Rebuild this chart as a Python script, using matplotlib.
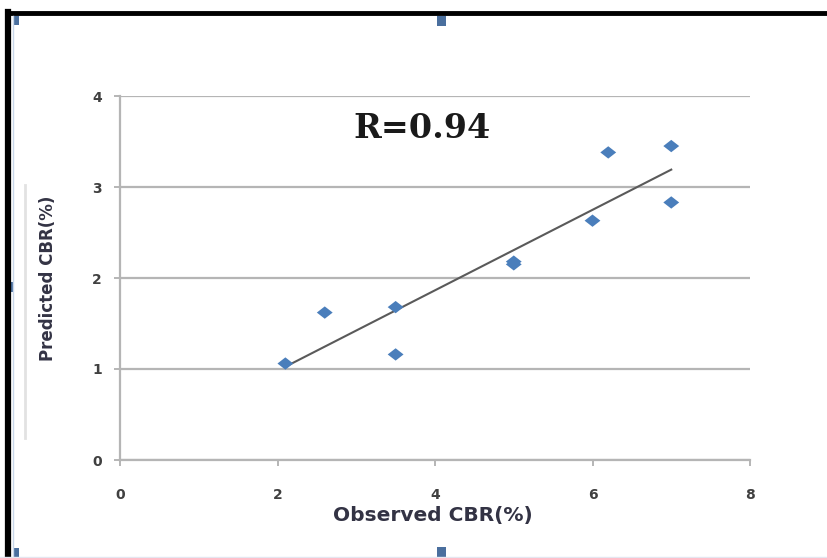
import numpy as np
import matplotlib
matplotlib.use("Agg")
import matplotlib.pyplot as plt
from matplotlib.patches import Rectangle
from matplotlib.lines import Line2D

# observed vs predicted CBR (%)
observed = [2.1, 2.6, 3.5, 3.5, 5.0, 5.0, 6.0, 6.2, 7.0, 7.0]
predicted = [1.06, 1.62, 1.68, 1.16, 2.15, 2.18, 2.63, 3.38, 3.45, 2.83]
x_ticks = [0, 2, 4, 6, 8]
y_ticks = [0, 1, 2, 3, 4]
r_label = "R=0.94"

W, H = 827, 558
fig = plt.figure(figsize=(W / 100, H / 100), dpi=100)
fig.patch.set_facecolor("white")


def px(x, y):
    # pixel (from top-left) -> figure fraction
    return x / W, 1 - y / H


# --- screenshot frame around the chart ---
fig.add_artist(Line2D([8 / W, 1], [1 - 13 / H] * 2, color="black", lw=3.5))
fig.add_artist(Line2D([8 / W] * 2, [0, 1 - 11.5 / H], color="black", lw=4.5))
fig.add_artist(Line2D([13 / W] * 2, [0, 1 - 16 / H], color="#c9d7ea", lw=1))
fig.add_artist(Line2D([0, 1], [1.5 / H] * 2, color="#e4e6f0", lw=1))
fig.add_artist(Line2D([25 / W] * 2, [1 - 438 / H, 1 - 185 / H], color="#e2e2e2", lw=2))
handle = "#4a6f9e"
for (hx, hy, hw, hh) in [(437, 16, 9, 10), (437, 547, 9, 11), (10, 282, 4, 10),
                         (14, 16, 5, 9), (14, 548, 5, 10)]:
    x0, y1 = px(hx, hy + hh)
    fig.add_artist(Rectangle((x0, y1), hw / W, hh / H, color=handle, lw=0))

# --- plot area ---
left, bottom = px(120, 460)
right, top = px(750, 96)
ax = fig.add_axes([left, bottom, right - left, top - bottom])
ax.set_xlim(0, 8)
ax.set_ylim(0, 4)
ax.set_xticks(x_ticks)
ax.set_yticks(y_ticks)

grid_c = "#b5b5b5"
ax.grid(axis="y", color=grid_c, lw=1.6)
ax.set_axisbelow(True)
for s in ["top", "right"]:
    ax.spines[s].set_visible(False)
for s in ["left", "bottom"]:
    ax.spines[s].set_color(grid_c)
    ax.spines[s].set_linewidth(1.6)
ax.tick_params(axis="both", direction="out", length=4, width=1.4, color=grid_c,
               labelsize=10, labelcolor="#404040")
ax.tick_params(axis="x", pad=16)
ax.tick_params(axis="y", pad=9)
for lab in ax.get_xticklabels() + ax.get_yticklabels():
    lab.set_fontweight("bold")

# wide diamond marker like Excel's
diamond = [(-1, 0), (0, 0.78), (1, 0), (0, -0.78), (-1, 0)]
ax.scatter(observed, predicted, marker=diamond, s=130, color="#4a7ebb",
           edgecolors="none", zorder=3)

# linear trendline
slope, icpt = np.polyfit(observed, predicted, 1)
xs = np.array([min(observed), max(observed)])
ax.plot(xs, slope * xs + icpt, color="#5a5a5a", lw=1.5, zorder=2)

ax.text(3.84, 3.64, r_label, fontsize=24, fontweight="bold", family="DejaVu Serif",
        color="#1a1a1a", ha="center", va="center")

fig.text(*px(433, 515), "Observed CBR(%)", fontsize=14.5, fontweight="bold",
         color="#333344", ha="center", va="center")
fig.text(*px(48, 278), "Predicted CBR(%)", fontsize=12, fontweight="bold",
         color="#333344", ha="center", va="center", rotation=90)

fig.savefig("out.png", dpi=100)
